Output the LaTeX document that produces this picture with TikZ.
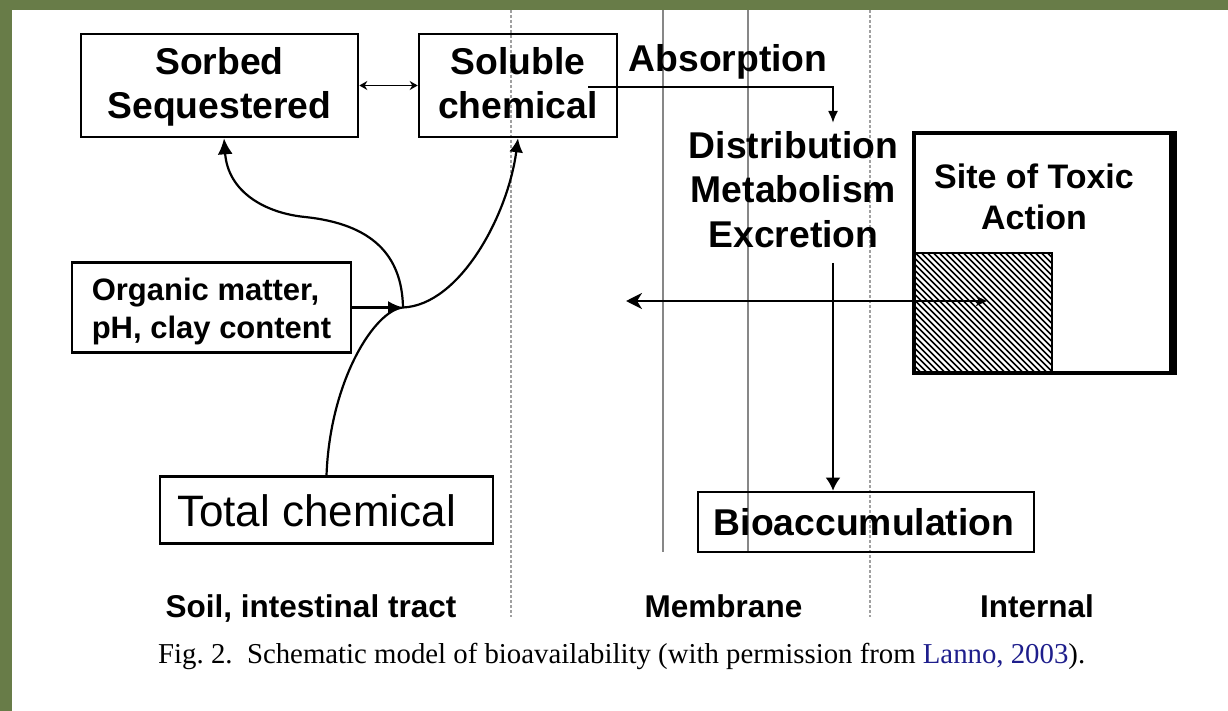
\documentclass[tikz,border=0pt]{standalone}
\usepackage{fontspec}
\setmainfont{Liberation Sans}
\newfontfamily\capfont{Liberation Serif}
\usetikzlibrary{arrows.meta,calc}
\definecolor{bggreen}{RGB}{104,124,72}
\definecolor{memgray}{RGB}{135,135,135}
\definecolor{dotgray}{RGB}{160,160,160}
\definecolor{citeblue}{RGB}{30,30,140}
\frenchspacing
\begin{document}
\begin{tikzpicture}[x=1pt,y=-1pt,
  box/.style={draw, line width=2.6pt, inner sep=0pt, align=center},
  bigfont/.style={font=\bfseries\fontsize{37.3}{44}\selectfont},
  conn/.style={line width=2.2pt},
  memline/.style={draw=memgray, line width=1.5pt},
  zoneline/.style={draw=dotgray, line width=1.6pt, dash pattern=on 3pt off 2pt},
  zonelabel/.style={anchor=base, font=\bfseries\fontsize{31.5}{36}\selectfont},
]
\useasboundingbox (0,0) rectangle (1228,711);
\fill[bggreen] (0,0) rectangle (1228,711);
\fill[white] (12,10) rectangle (1228,711);

% membrane and zone dividers
\draw[memline] (663,10) -- (663,552);
\draw[memline] (748,10) -- (748,552);
\draw[zoneline] (511,10) -- (511,617);
\draw[zoneline] (870,10) -- (870,617);

% boxes
\node[box, bigfont, minimum width=277pt, minimum height=103pt] (sorbed) at (219.5,85.5)
  {\rule{0pt}{31pt}Sorbed\\Sequestered\rule[-8pt]{0pt}{8pt}};
\node[box, bigfont, minimum width=198pt, minimum height=103pt] (soluble) at (518,85.5)
  {\rule{0pt}{31pt}Soluble\\chemical\rule[-8pt]{0pt}{8pt}};
\node[box, align=left, font=\bfseries\fontsize{31}{38}\selectfont, minimum width=279pt, minimum height=90.5pt] (organic) at (211.5,307.5)
  {\rule{0pt}{31pt}Organic matter,\\pH, clay content\rule[-8pt]{0pt}{8pt}};
\node[box, font=\fontsize{44}{50}\selectfont, minimum width=333pt, minimum height=66.5pt] (total) at (326.5,510)
  {\rule{0pt}{34pt}Total chemical\rule{20pt}{0pt}};
\node[box, bigfont, minimum width=336pt, minimum height=60pt] (bio) at (866,522)
  {\rule{0pt}{28pt}Bioaccumulation\rule{4pt}{0pt}};

% hatched target inside the site box
\node[draw, line width=2pt, inner sep=0pt, minimum width=137.5pt, minimum height=119.5pt,
  path picture={\foreach \k in {-132,-126,...,140}{\draw[line width=1.5pt] ([xshift=\k pt,yshift=2pt]path picture bounding box.north west) -- ++(150,150);}}]
  (hatch) at (982.75,313.25) {};
\node[draw, line width=4.5pt, inner sep=0pt, align=center, font=\bfseries\fontsize{34}{41}\selectfont,
  minimum width=257.5pt, minimum height=239.8pt] (site) at (1042.75,253.1)
  {\rule{0pt}{25.5pt}Site of Toxic\rule{17.5pt}{0pt}\\Action\rule{17.5pt}{0pt}\rule[-114.5pt]{0pt}{114.5pt}};
\draw[line width=3pt] ([xshift=1.5pt]site.north east) -- ([xshift=1.5pt]site.south east);

% free text
\node[bigfont, anchor=base] (absorb) at (728,72) {Absorption};
\node[bigfont, align=center, font=\bfseries\fontsize{37.3}{44.5}\selectfont] (dme) at (793.5,189.5)
  {Distribution\\Metabolism\\Excretion};

\node[zonelabel] (soil) at (311,617) {Soil, intestinal tract};
\node[zonelabel] (membrane) at (723.5,617) {Membrane};
\node[zonelabel] (internal) at (1037,617) {Internal};

\node[anchor=base west, inner sep=0pt, font=\capfont\fontsize{28.8}{32}\selectfont] (caption) at (158,663)
  {Fig. 2.\ \ Schematic model of bioavailability (with permission from \textcolor{citeblue}{Lanno, 2003}).};

% connection points
\coordinate (J) at (403,307.5);
\coordinate (bend) at (305,217);
\coordinate (absStart) at (588,87);
\coordinate (absEnd) at (833,123);
\coordinate (dmeOut) at (833,263);
\coordinate (hL) at (626,301);
\coordinate (hR) at (987,301);

% connectors
\draw[line width=1.6pt, {Stealth[length=8pt,width=9pt]}-{Stealth[length=8pt,width=9pt]}] (sorbed) -- (soluble);
\draw[conn, -{Latex[length=15pt,width=13pt]}] (organic.east) -- (J);
\draw[conn, -{Latex[length=14pt,width=14pt]}] (total.north) .. controls (330,380) and (375,310) .. (J)
  .. controls (460,305) and (508,215) .. (soluble.south);
\draw[conn, -{Latex[length=16pt,width=15pt]}] (J) .. controls (402,255) and (372,224) .. (bend)
  .. controls (265,213) and (228,192) .. ([xshift=4.5pt]sorbed.south);
\draw[line width=2pt, -{Latex[length=12pt,width=10pt]}] (absStart) -| (absEnd);
\draw[line width=2.4pt, -{Latex[length=13pt,width=15pt]}] (dmeOut) -- (dmeOut |- bio.north);
\draw[line width=2pt, {Stealth[length=16pt,width=16pt,inset=5pt]}-{Stealth[length=11pt,width=10pt,inset=3pt]}] (hL) -- (hR);
\end{tikzpicture}
\end{document}
